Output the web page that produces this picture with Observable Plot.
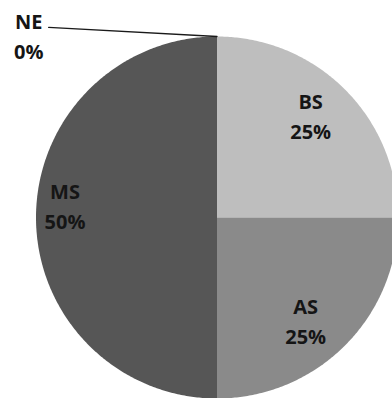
<!DOCTYPE html>
<html>
<head>
<meta charset="utf-8">
<script src="https://cdn.jsdelivr.net/npm/d3@7"></script>
<script src="https://cdn.jsdelivr.net/npm/@observablehq/plot@0.6"></script>
<style>
  html, body { margin: 0; padding: 0; background: #fff; overflow: hidden; }
  #chart svg { display: block; overflow: visible; }
</style>
</head>
<body>
<div id="chart"></div>
<script>
// ---- data ----
const categories = ["BS", "AS", "MS", "NE"];
const values = [25, 25, 50, 0];
const percentLabels = ["25%", "25%", "50%", "0%"];
const colors = ["#bebebe", "#8a8a8a", "#565656", "#333333"];

// ---- geometry (unit circle, angle 0 at 12 o'clock, clockwise) ----
const pie = d3.pie().sort(null).value(d => d.value)
  (categories.map((c, i) => ({category: c, value: values[i], label: percentLabels[i]})));

const slicePoints = [];
for (const a of pie) {
  if (a.endAngle - a.startAngle <= 0) continue;
  const n = Math.max(2, Math.ceil((a.endAngle - a.startAngle) / 0.01));
  slicePoints.push({category: a.data.category, x: 0, y: 0});
  for (let k = 0; k <= n; k++) {
    const t = a.startAngle + (a.endAngle - a.startAngle) * k / n;
    slicePoints.push({category: a.data.category, x: Math.sin(t), y: Math.cos(t)});
  }
  slicePoints.push({category: a.data.category, x: 0, y: 0});
}

// small per-label nudges (pixels) to mimic the original label placement
const nudges = {BS: [-3, -6], AS: [-8, 5], MS: [0, -1]};

const labelRows = pie.filter(a => a.value > 0).map(a => {
  const mid = (a.startAngle + a.endAngle) / 2;
  const r = a.value >= 50 ? 0.84 : 0.755;
  const yShift = a.value >= 50 ? 0.066 : 0;
  const [ndx, ndy] = nudges[a.data.category] || [0, 0];
  return {text: a.data.category + "\n" + a.data.label, x: r * Math.sin(mid), y: r * Math.cos(mid) + yShift, ndx, ndy};
});
const zero = pie.find(a => a.value === 0);
const zeroAngle = zero.startAngle;
const zeroLabel = {text: zero.data.category + "\n" + zero.data.label, x: -1.04, y: 1.012};
const leader = [
  {x: Math.sin(zeroAngle), y: Math.cos(zeroAngle)},
  {x: -0.93, y: 1.05}
];

const cx = 216.5, cy = 217, R = 181;
const W = 392, H = 398;

const textStyle = {fontSize: 20, fontWeight: "bold", fill: "#151515", lineHeight: 1.5, textAnchor: "middle"};

const plot = Plot.plot({
  width: W,
  height: H,
  margin: 0,
  x: {domain: [-1, 1], range: [cx - R, cx + R], axis: null},
  y: {domain: [-1, 1], range: [cy + R, cy - R], axis: null},
  color: {domain: categories, range: colors},
  style: {fontFamily: "'Open Sans', sans-serif", background: "#fff", overflow: "visible"},
  marks: [
    Plot.line(slicePoints, {x: "x", y: "y", z: "category", fill: "category", stroke: "none", curve: "linear"}),
    Plot.line(leader, {x: "x", y: "y", stroke: "#1a1a1a", strokeWidth: 1.3}),
    ...labelRows.map(d => Plot.text([d], {x: "x", y: "y", text: "text", dx: d.ndx, dy: d.ndy, ...textStyle})),
    Plot.text([zeroLabel], {x: "x", y: "y", text: "text", ...textStyle})
  ]
});
document.getElementById("chart").appendChild(plot);
</script>
</body>
</html>
